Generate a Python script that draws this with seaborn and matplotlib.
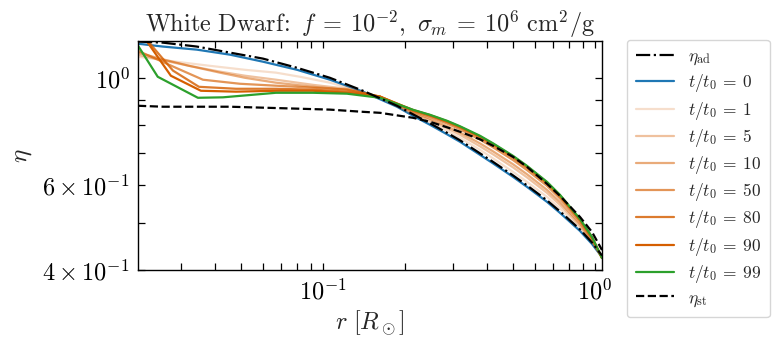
import numpy as np
import pandas as pd
import matplotlib
matplotlib.use("Agg")
import matplotlib.pyplot as plt
from matplotlib.ticker import FixedLocator, FixedFormatter, NullFormatter, LogLocator
import seaborn as sns

# ---------------- data ----------------
r_left = [0.0209, 0.0258, 0.0344, 0.0455, 0.0602, 0.0803, 0.1061, 0.1403, 0.1871]
r_right = [0.2143, 0.2474, 0.2857, 0.3190, 0.3777, 0.4217, 0.4995, 0.5623, 0.6661, 0.7436, 0.8808, 0.9750, 1.061]

r_ad = r_left + r_right
eta_ad = [1.190, 1.184, 1.162, 1.129, 1.097, 1.050, 1.001, 0.941, 0.876,
          0.8410, 0.8057, 0.7700, 0.7429, 0.6981, 0.6703, 0.6284, 0.5991, 0.5577, 0.5291, 0.4854, 0.4560, 0.4286]

r_t0 = r_left + r_right
eta_t0 = [1.178, 1.162, 1.145, 1.118, 1.081, 1.040, 0.992, 0.937, 0.872,
          0.8350, 0.8000, 0.7645, 0.7376, 0.6931, 0.6655, 0.6239, 0.5948, 0.5537, 0.5254, 0.4819, 0.4528, 0.4255]

r_t1 = [0.0209, 0.0288, 0.0384, 0.0517, 0.0672, 0.0823, 0.1061, 0.1311, 0.1621] + r_right
eta_t1 = [1.107, 1.081, 1.060, 1.040, 1.026, 1.006, 0.978, 0.946, 0.910,
          0.8410, 0.8095, 0.7773, 0.7519, 0.7098, 0.6816, 0.6390, 0.6092, 0.5671, 0.5368, 0.4889, 0.4571, 0.4245]

r_t5 = [0.0209, 0.0252, 0.0322, 0.0418, 0.0517, 0.0672, 0.0919, 0.1225, 0.1621] + r_right
eta_t5 = [1.118, 1.091, 1.060, 1.031, 1.011, 0.992, 0.968, 0.950, 0.915,
          0.8459, 0.8173, 0.7871, 0.7627, 0.7219, 0.6948, 0.6529, 0.6224, 0.5780, 0.5458, 0.4945, 0.4596, 0.4245]

r_t10 = [0.0209, 0.0252, 0.0322, 0.0418, 0.0517, 0.0672, 0.0919, 0.1225, 0.1621] + r_right
eta_t10 = [1.129, 1.097, 1.060, 1.026, 1.001, 0.978, 0.959, 0.946, 0.915,
           0.8495, 0.8232, 0.7946, 0.7711, 0.7320, 0.7048, 0.6626, 0.6317, 0.5864, 0.5532, 0.4988, 0.4620, 0.4243]

r_t50 = [0.0209, 0.0288, 0.0362, 0.0495, 0.0672, 0.0919, 0.1225, 0.1621] + r_right
eta_t50 = [1.139, 1.050, 0.992, 0.973, 0.964, 0.955, 0.946, 0.915,
           0.8544, 0.8311, 0.8049, 0.7826, 0.7454, 0.7185, 0.6761, 0.6445, 0.5977, 0.5627, 0.5045, 0.4651, 0.4239]

r_t80 = [0.0209, 0.0281, 0.0350, 0.0479, 0.0672, 0.0919, 0.1225, 0.1621] + r_right
eta_t80 = [1.260, 1.036, 0.959, 0.950, 0.950, 0.946, 0.937, 0.915,
           0.8572, 0.8358, 0.8111, 0.7897, 0.7537, 0.7268, 0.6842, 0.6523, 0.6045, 0.5687, 0.5079, 0.4669, 0.4235]

r_t90 = [0.0209, 0.0276, 0.0356, 0.0479, 0.0672, 0.0919, 0.1225, 0.1621] + r_right
eta_t90 = [1.266, 1.011, 0.941, 0.937, 0.941, 0.941, 0.932, 0.915,
           0.8585, 0.8378, 0.8138, 0.7924, 0.7569, 0.7302, 0.6878, 0.6557, 0.6074, 0.5711, 0.5094, 0.4678, 0.4235]

r_t99 = [0.0209, 0.0247, 0.0347, 0.0429, 0.0672, 0.0919, 0.1225, 0.1621] + r_right
eta_t99 = [1.167, 1.006, 0.910, 0.912, 0.932, 0.932, 0.928, 0.910,
           0.8593, 0.8390, 0.8154, 0.7943, 0.7591, 0.7323, 0.6898, 0.6576, 0.6092, 0.5725, 0.5103, 0.4683, 0.4235]

r_st = [0.0209, 0.0258, 0.0455, 0.0803, 0.1061, 0.1403, 0.1621] + r_right
eta_st = [0.876, 0.872, 0.872, 0.864, 0.860, 0.851, 0.847,
          0.8271, 0.8115, 0.7905, 0.7737, 0.7465, 0.7237, 0.6865, 0.6545, 0.6034, 0.5698, 0.5152, 0.4796, 0.4400]

ytick_vals = [0.4, 0.6, 1.0]
ytick_labels = [r"$4\times10^{-1}$", r"$6\times10^{-1}$", r"$10^{0}$"]
yminor_vals = [0.5, 0.7, 0.8, 0.9]
title = r"$\mathrm{White\ Dwarf\!:}\ f\:=\:10^{-2},\ \sigma_m\:=\:10^{6}\ \mathrm{cm}^2/\mathrm{g}$"

# ---------------- style ----------------
sns.set_theme(style="ticks")
plt.rcParams.update({
    "font.family": "serif",
    "font.serif": ["cmr10"],
    "mathtext.fontset": "cm",
    "axes.formatter.use_mathtext": True,
    "axes.unicode_minus": False,
    "axes.edgecolor": "black",
    "axes.linewidth": 1.0,
    "xtick.color": "black",
    "ytick.color": "black",
})

fig = plt.figure(figsize=(7.75, 3.47), dpi=100)
ax = fig.add_axes([138/775, 1-270/347, (602-138)/775, (270-40.7)/347])

series = [
    (r_t0, eta_t0, r"$t/t_0\:=\:0$", "#1f77b4", 1.0),
    (r_t1, eta_t1, r"$t/t_0\:=\:1$", "#d55e00", 0.2),
    (r_t5, eta_t5, r"$t/t_0\:=\:5$", "#d55e00", 0.38),
    (r_t10, eta_t10, r"$t/t_0\:=\:10$", "#d55e00", 0.52),
    (r_t50, eta_t50, r"$t/t_0\:=\:50$", "#d55e00", 0.66),
    (r_t80, eta_t80, r"$t/t_0\:=\:80$", "#d55e00", 0.82),
    (r_t90, eta_t90, r"$t/t_0\:=\:90$", "#d55e00", 1.0),
    (r_t99, eta_t99, r"$t/t_0\:=\:99$", "#2ca02c", 1.0),
]

sns.lineplot(x=r_ad, y=eta_ad, ax=ax, color="black", linestyle="-.", lw=1.6,
             label=r"$\eta_{\rm ad}$", sort=False, estimator=None, zorder=3)
for rr, ee, lab, col, a in series:
    sns.lineplot(x=rr, y=ee, ax=ax, color=col, alpha=a, lw=1.6, label=lab,
                 sort=False, estimator=None, zorder=2)
sns.lineplot(x=r_st, y=eta_st, ax=ax, color="black", linestyle="--", lw=1.6,
             label=r"$\eta_{\rm st}$", sort=False, estimator=None, zorder=4)

ax.set_xscale("log")
ax.set_yscale("log")
ax.set_xlim(0.0209, 1.061)
ax.set_ylim(0.4, 1.195)

ax.yaxis.set_major_locator(FixedLocator(ytick_vals))
ax.yaxis.set_major_formatter(FixedFormatter(ytick_labels))
ax.yaxis.set_minor_locator(FixedLocator(yminor_vals))
ax.yaxis.set_minor_formatter(NullFormatter())
ax.xaxis.set_minor_locator(LogLocator(base=10, subs=np.arange(2, 10)))
ax.xaxis.set_minor_formatter(NullFormatter())

ax.tick_params(which="both", direction="in", top=True, right=True, width=0.9)
ax.tick_params(which="major", length=5, labelsize=17.5, pad=6)
ax.tick_params(which="minor", length=5)

ax.set_xlabel(r"$r\ [R_\odot]$", fontsize=17.5, labelpad=3)
ax.set_ylabel(r"$\eta$", fontsize=18, labelpad=6)
ax.set_title(title, fontsize=17.5, pad=6)

leg = ax.legend(loc="upper left", bbox_to_anchor=(627/775, 1-40/347),
                bbox_transform=fig.transFigure, borderaxespad=0.0, fontsize=12.5,
                handlelength=2.2, handletextpad=0.8, labelspacing=0.3,
                borderpad=0.5, frameon=True, fancybox=True, edgecolor="0.8",
                framealpha=0.8)
for lh, (_, _, _, col, a) in zip(leg.get_lines()[1:9], series):
    lh.set_alpha(a)

fig.savefig("out.png", dpi=100)
